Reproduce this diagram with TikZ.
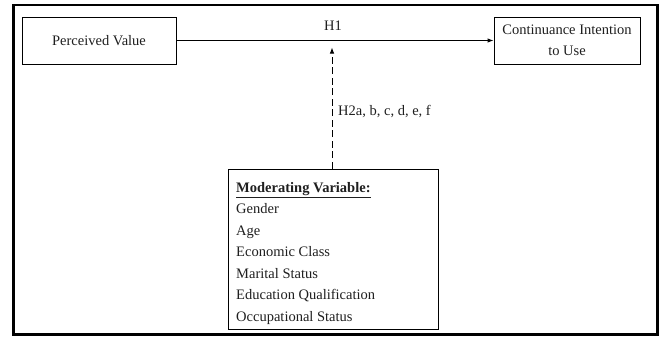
\documentclass[tikz,border=0pt]{standalone}
\usepackage{fontspec}
\setmainfont{Liberation Serif}
\usetikzlibrary{arrows.meta}
\begin{document}
\begin{tikzpicture}[x=1pt,y=-1pt,
  txt/.style={font=\fontsize{14.5}{21.5}\selectfont, text=black!88},
  cbox/.style={draw, line width=0.9pt, inner sep=0pt},
  link/.style={line width=0.9pt, -{Latex[length=6pt,width=4.5pt]}},
  frame/.style={line width=2.6pt}]
\useasboundingbox (0,0) rectangle (664,338);
\draw[frame] (13.3,4.8) rectangle (657.7,334.7);
\node[cbox, minimum width=154pt, minimum height=47pt] (pv) at (99,40.5) {};
\node[txt] (pvt) at (pv.center) {Perceived Value};
\node[cbox, minimum width=146pt, minimum height=47pt] (ci) at (567,40.5) {};
\node[txt, align=center] (cit) at (ci.center) {Continuance Intention\\to Use};
\node[cbox, minimum width=210pt, minimum height=160pt] (mod) at (333,249) {};
\node[txt, anchor=north west, inner sep=0pt, align=left] (modt) at (236,182)
  {\textbf{\underline{Moderating Variable:}}\\Gender\\Age\\Economic Class\\Marital Status\\Education Qualification\\Occupational Status};
\coordinate (tip) at (332,47.5);
\draw[link] (pv.east) -- (ci.west);
\draw[link, dash pattern=on 7pt off 3.5pt] (mod.north -| tip) -- (tip);
\node[txt, anchor=base] (h1) at (333,30) {H1};
\node[txt, anchor=base west, inner sep=0pt] (h2) at (338,115) {H2a, b, c, d, e, f};
\end{tikzpicture}
\end{document}
